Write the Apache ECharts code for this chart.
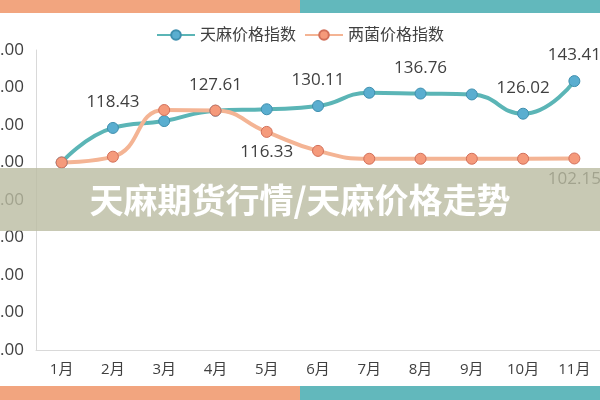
<!DOCTYPE html>
<html>
<head>
<meta charset="utf-8">
<script src="https://cdn.jsdelivr.net/npm/echarts@6/dist/echarts.min.js"></script>
<style>
  html, body { margin: 0; padding: 0; background: #fff; }
  #main { width: 600px; height: 400px; }
</style>
</head>
<body>
<div id="main"></div>
<script>
var months = ['1月', '2月', '3月', '4月', '5月', '6月', '7月', '8月', '9月', '10月', '11月'];
var tianma = [100.00, 118.43, 122.10, 127.61, 128.40, 130.11, 137.20, 136.76, 136.30, 126.02, 143.41];
var liangjun = [100.00, 103.10, 128.00, 127.70, 116.33, 106.20, 102.00, 102.00, 102.00, 102.00, 102.15];
// which points carry a value label
var tianmaLabelIdx = [1, 3, 5, 7, 9, 10];
var liangjunLabelIdx = [4, 10];

var textColor = '#404040';
var font = '"Open Sans", "Noto Sans CJK SC", sans-serif';

function withLabels(values, idx, pos, dist) {
    return values.map(function (v, i) {
        if (idx.indexOf(i) < 0) return v;
        return {
            value: v,
            label: {
                show: true,
                position: pos,
                distance: dist,
                formatter: function (p) { return p.value.toFixed(2); }
            }
        };
    });
}

var myChart = echarts.init(document.getElementById('main'));

var option = {
    animation: false,
    textStyle: { fontFamily: font },
    legend: {
        top: 22,
        left: 'center',
        itemWidth: 38,
        itemHeight: 12,
        itemGap: 8,
        textStyle: { color: textColor, fontSize: 16, fontFamily: font },
        data: ['天麻价格指数', '两菌价格指数']
    },
    grid: {
        left: 36,
        right: 0,
        top: 50,
        bottom: 50,
        containLabel: false,
        outerBoundsMode: 'none'
    },
    xAxis: {
        type: 'category',
        data: months,
        boundaryGap: true,
        axisLine: { lineStyle: { color: '#d9d9d9', width: 1 } },
        axisTick: { show: false },
        axisLabel: { color: textColor, fontSize: 15, margin: 12 }
    },
    yAxis: {
        type: 'value',
        min: 0,
        max: 160,
        interval: 20,
        axisLine: { show: true, lineStyle: { color: '#d9d9d9', width: 1 } },
        axisTick: { show: false },
        splitLine: { show: false },
        axisLabel: {
            color: textColor,
            fontSize: 17,
            margin: 12,
            formatter: function (v) { return v.toFixed(2); }
        }
    },
    series: [
        {
            name: '天麻价格指数',
            type: 'line',
            smooth: true,
            symbol: 'circle',
            symbolSize: 11,
            lineStyle: { color: '#5bb5b6', width: 4 },
            itemStyle: { color: '#5aaed0', borderColor: '#3f8fae', borderWidth: 1 },
            label: { color: textColor, fontSize: 17 },
            data: withLabels(tianma, tianmaLabelIdx, 'top', 11)
        },
        {
            name: '两菌价格指数',
            type: 'line',
            smooth: true,
            symbol: 'circle',
            symbolSize: 11,
            lineStyle: { color: '#f4b494', width: 4 },
            itemStyle: { color: '#f59a7b', borderColor: '#d2705a', borderWidth: 1 },
            label: { color: textColor, fontSize: 17 },
            data: withLabels(liangjun, liangjunLabelIdx, 'bottom', 6)
        }
    ],
    graphic: [
        { type: 'rect', z: 100, shape: { x: 0, y: 0, width: 300, height: 13 }, style: { fill: '#f2a57f' } },
        { type: 'rect', z: 100, shape: { x: 300, y: 0, width: 300, height: 13 }, style: { fill: '#62b8bc' } },
        { type: 'rect', z: 100, shape: { x: 0, y: 386, width: 300, height: 14 }, style: { fill: '#f2a57f' } },
        { type: 'rect', z: 100, shape: { x: 300, y: 386, width: 300, height: 14 }, style: { fill: '#62b8bc' } },
        { type: 'rect', z: 100, shape: { x: 0, y: 168, width: 600, height: 63 }, style: { fill: 'rgba(186,188,161,0.8)' } },
        {
            type: 'text', z: 101, x: 300, y: 200,
            style: {
                text: '天麻期货行情/天麻价格走势',
                fill: '#ffffff',
                font: 'bold 34px "Noto Sans CJK SC", sans-serif',
                align: 'center',
                verticalAlign: 'middle'
            }
        }
    ]
};
myChart.setOption(option);
</script>
</body>
</html>
